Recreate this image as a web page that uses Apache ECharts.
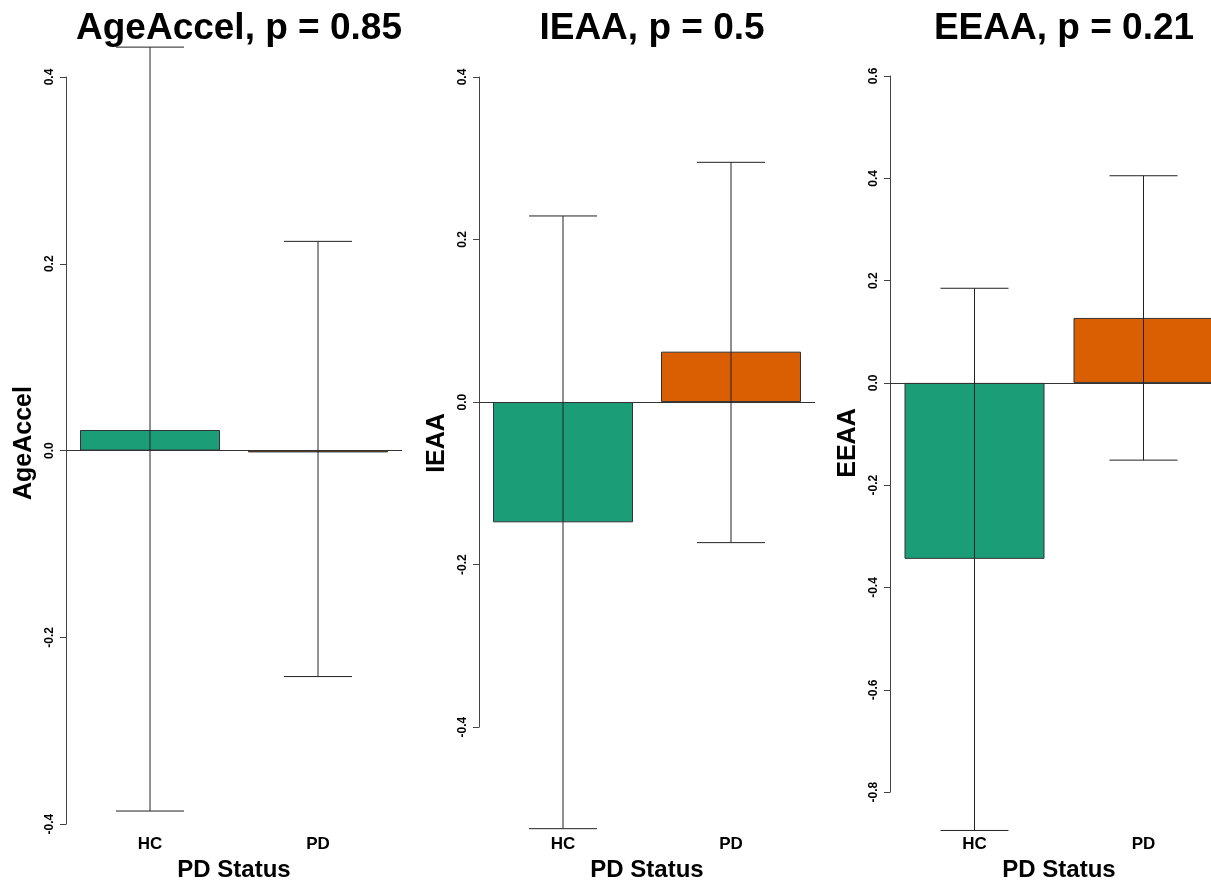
<!DOCTYPE html>
<html>
<head>
<meta charset="utf-8">
<script src="https://cdn.jsdelivr.net/npm/echarts@6/dist/echarts.min.js"></script>
<style>
  html, body { margin: 0; padding: 0; background: #fff; overflow: hidden; }
  #chart { width: 1240px; height: 887px; }
</style>
</head>
<body>
<div id="chart"></div>
<script>
// categories and panel titles
const groups = ['HC', 'PD'];
const panelNames = ['AgeAccel', 'IEAA', 'EEAA'];
const pValues = ['0.85', '0.5', '0.21'];

// bar means per panel (HC, PD)
const ageAccelMean = [0.022, -0.002];
const ieaaMean = [-0.148, 0.062];
const eeaaMean = [-0.344, 0.127];

// error bar ends per panel (HC, PD)
const ageAccelLow = [-0.386, -0.242];
const ageAccelHigh = [0.432, 0.224];
const ieaaLow = [-0.525, -0.173];
const ieaaHigh = [0.229, 0.295];
const eeaaLow = [-0.875, -0.151];
const eeaaHigh = [0.185, 0.405];

// y axis tick ranges
const yMin = [-0.4, -0.4, -0.8];
const yMax = [0.4, 0.4, 0.6];

const barColors = ['#1B9E77', '#D95F02'];
const font = 'Liberation Sans, Arial, sans-serif';

const means = [ageAccelMean, ieaaMean, eeaaMean];
const lows = [ageAccelLow, ieaaLow, eeaaLow];
const highs = [ageAccelHigh, ieaaHigh, eeaaHigh];

// layout of the three panels (px); the last one runs past the right edge
const grids = [
  { left: 66, top: 77, width: 336, height: 756 },
  { left: 479, top: 77, width: 336, height: 659 },
  { left: 890, top: 76, width: 338, height: 725 }
];
const labelY = 845;   // top of HC / PD labels
const nameY = 861;    // top of "PD Status"

const chart = echarts.init(document.getElementById('chart'));

const option = {
  backgroundColor: '#fff',
  animation: false,
  textStyle: { fontFamily: font },
  title: grids.map((g, i) => ({
    text: panelNames[i] + ', p = ' + pValues[i],
    left: g.left + g.width / 2,
    top: 5,
    textAlign: 'center',
    textStyle: { fontSize: 37, fontWeight: 'bold', color: '#000', fontFamily: font }
  })),
  grid: grids.map(g => Object.assign({ containLabel: false }, g)),
  xAxis: grids.map((g, i) => {
    const bottom = g.top + g.height;
    return {
      type: 'category',
      gridIndex: i,
      data: groups,
      position: 'bottom',
      axisLine: { show: false },
      axisTick: { show: false },
      axisLabel: {
        margin: labelY - bottom,
        fontSize: 17,
        fontWeight: 'bold',
        color: '#000',
        fontFamily: font
      },
      name: 'PD Status',
      nameLocation: 'middle',
      nameGap: nameY - bottom,
      nameTextStyle: { fontSize: 24, fontWeight: 'bold', color: '#000', fontFamily: font }
    };
  }),
  yAxis: grids.map((g, i) => ({
    type: 'value',
    gridIndex: i,
    min: yMin[i],
    max: yMax[i],
    interval: 0.2,
    splitLine: { show: false },
    axisLine: { show: true, lineStyle: { color: '#444', width: 1 } },
    axisTick: { show: true, length: 6, lineStyle: { color: '#444', width: 1 } },
    axisLabel: {
      rotate: 90,
      margin: 10,
      fontSize: 12,
      fontWeight: 'bold',
      color: '#000',
      fontFamily: font,
      formatter: v => v.toFixed(1)
    }
  })),
  graphic: grids.map((g, i) => ({
    type: 'text',
    x: g.left - 42,
    y: 443,
    rotation: Math.PI / 2,
    style: {
      text: panelNames[i],
      font: 'bold 25px ' + font,
      fill: '#000',
      align: 'center',
      verticalAlign: 'middle'
    }
  })),
  series: []
};

means.forEach((m, i) => {
  option.series.push({
    type: 'bar',
    xAxisIndex: i,
    yAxisIndex: i,
    barWidth: 140,
    data: m.map((v, j) => ({
      value: v,
      itemStyle: { color: barColors[j], borderColor: '#333', borderWidth: 1 }
    })),
    markLine: {
      silent: true,
      symbol: 'none',
      label: { show: false },
      lineStyle: { color: '#333', width: 1, type: 'solid' },
      data: [{ yAxis: 0 }]
    }
  });
  option.series.push({
    type: 'custom',
    xAxisIndex: i,
    yAxisIndex: i,
    clip: false,
    z: 5,
    data: groups.map((_, j) => [j, lows[i][j], highs[i][j]]),
    renderItem: (params, api) => {
      const top = api.coord([api.value(0), api.value(2)]);
      const bot = api.coord([api.value(0), api.value(1)]);
      const half = 34;
      const style = { stroke: '#222', lineWidth: 1 };
      return {
        type: 'group',
        children: [
          { type: 'line', shape: { x1: top[0], y1: top[1], x2: bot[0], y2: bot[1] }, style },
          { type: 'line', shape: { x1: top[0] - half, y1: top[1], x2: top[0] + half, y2: top[1] }, style },
          { type: 'line', shape: { x1: bot[0] - half, y1: bot[1], x2: bot[0] + half, y2: bot[1] }, style }
        ]
      };
    }
  });
});

chart.setOption(option);
</script>
</body>
</html>
